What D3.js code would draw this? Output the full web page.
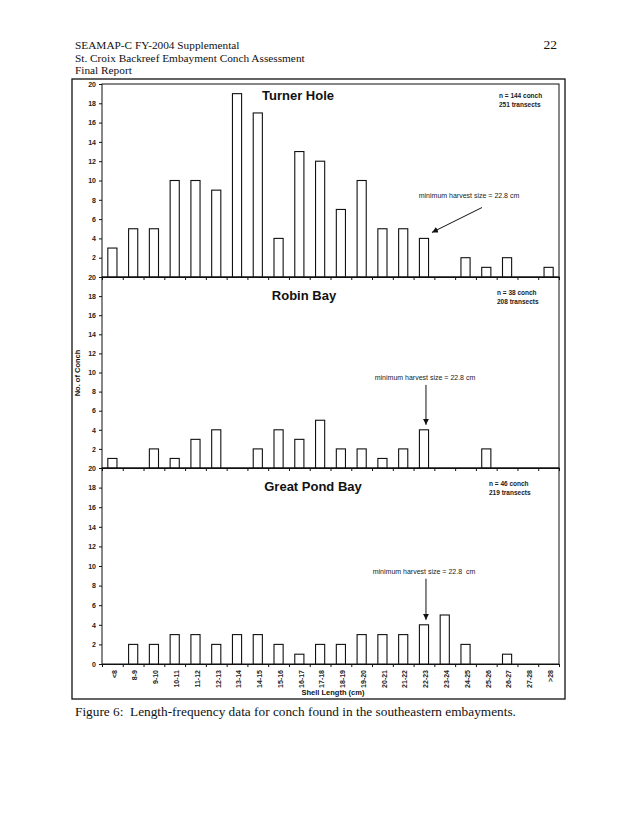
<!DOCTYPE html>
<html><head><meta charset="utf-8">
<script src="https://cdn.jsdelivr.net/npm/d3@7"></script>
<style>body{margin:0;background:#fff}svg{display:block}</style>
</head><body><script>
const categories = ["<8","8-9","9-10","10-11","11-12","12-13","13-14","14-15","15-16","16-17","17-18","18-19","19-20","20-21","21-22","22-23","23-24","24-25","25-26","26-27","27-28",">28"];
const turnerHole   = [3,5,5,10,10,9,19,17,4,13,12,7,10,5,5,4,0,2,1,2,0,1];
const robinBay     = [1,0,2,1,3,4,0,2,4,3,5,2,2,1,2,4,0,0,2,0,0,0];
const greatPondBay = [0,2,2,3,3,2,3,3,2,1,2,2,3,3,3,4,5,2,0,1,0,0];
const siteNames = ["Turner Hole","Robin Bay","Great Pond Bay"];
const conchCounts = [144,38,46];
const transectCounts = [251,208,219];
const yTickValues = [0,2,4,6,8,10,12,14,16,18,20];
const harvestCategory = "22-23";
const harvestLabels = ["minimum harvest size = 22.8 cm","minimum harvest size = 22.8 cm","minimum harvest size = 22.8  cm"];
const headerLines = ["SEAMAP-C FY-2004 Supplemental","St. Croix Backreef Embayment Conch Assessment","Final Report"];
const pageNumber = "22";
const captionText = "Figure 6:  Length-frequency data for conch found in the southeastern embayments.";

const series = [turnerHole, robinBay, greatPondBay];
const W = 630, H = 815;
const left = 102, right = 559;
const panelTop = [84, 277, 468], panelBottom = [277, 468, 664];
const ink = "#111";
const sans = "Arial, 'Liberation Sans', sans-serif";
const serif = "'Times New Roman', 'Liberation Serif', serif";

const svg = d3.select("body").append("svg").attr("width", W).attr("height", H);
svg.append("rect").attr("width", W).attr("height", H).attr("fill", "#fff");

svg.append("defs").append("marker").attr("id","arr").attr("viewBox","0 0 10 10")
  .attr("refX",10).attr("refY",5).attr("markerWidth",6).attr("markerHeight",6)
  .attr("orient","auto-start-reverse").attr("markerUnits","userSpaceOnUse")
  .append("path").attr("d","M0,0L10,5L0,10z").attr("fill",ink);

// header
svg.append("g").selectAll("text").data(headerLines).join("text")
  .attr("x",75).attr("y",(d,i)=>49+i*12.5).attr("font-family",serif).attr("font-size",11.3).attr("fill",ink).text(d=>d);
svg.append("text").attr("x",557).attr("y",49).attr("text-anchor","end").attr("font-family",serif).attr("font-size",13.5).attr("fill",ink).text(pageNumber);

// outer frame
svg.append("rect").attr("x",72).attr("y",79).attr("width",493).attr("height",620)
  .attr("fill","none").attr("stroke",ink).attr("stroke-width",1.3);

const x = d3.scaleBand().domain(categories).range([left,right]).paddingInner(0.56).paddingOuter(0.28);
const xl = d3.scaleLinear().domain([0,categories.length]).range([left,right]);

series.forEach((vals,i)=>{
  const top = panelTop[i], bottom = panelBottom[i];
  const y = d3.scaleLinear().domain([0,20]).range([bottom, top]);
  const g = svg.append("g");
  g.append("rect").attr("x",left).attr("y",top).attr("width",right-left).attr("height",bottom-top)
    .attr("fill","none").attr("stroke",ink).attr("stroke-width",1);
  const ya = g.append("g").attr("transform",`translate(${left},0)`)
    .call(d3.axisLeft(y).tickValues(i===2 ? yTickValues : yTickValues.slice(1)).tickSize(3).tickPadding(3));
  ya.select(".domain").remove();
  ya.selectAll("line").attr("stroke",ink);
  ya.selectAll("text").attr("font-family",sans).attr("font-size",7).attr("font-weight","bold").attr("fill","#222");
  const xa = g.append("g").attr("transform",`translate(0,${bottom})`)
    .call(d3.axisBottom(xl).tickValues(d3.range(0,categories.length+1)).tickSize(3).tickFormat(""));
  xa.select(".domain").attr("stroke",ink);
  xa.selectAll("line").attr("stroke",ink);

  g.append("g").selectAll("rect").data(categories.map((c,k)=>({c,v:vals[k]})).filter(d=>d.v>0)).join("rect")
    .attr("x",d=>x(d.c)).attr("width",x.bandwidth())
    .attr("y",d=>y(d.v)).attr("height",d=>y(0)-y(d.v))
    .attr("fill","#fff").attr("stroke",ink).attr("stroke-width",1.1);

  const titleX = [298,304,313][i];
  const titleDy = [16,23,23][i];
  g.append("text").attr("x",titleX).attr("y",top+titleDy).attr("text-anchor","middle")
    .attr("font-family",sans).attr("font-size",13).attr("font-weight","bold").attr("fill",ink).text(siteNames[i]);
  const nx = [499,497,489][i];
  const nDy = [14,18,18][i];
  g.append("text").attr("x",nx).attr("y",top+nDy).attr("font-family",sans).attr("font-size",6.5).attr("font-weight","bold").attr("fill","#222")
    .text(`n = ${conchCounts[i]} conch`);
  g.append("text").attr("x",nx).attr("y",top+nDy+8.5).attr("font-family",sans).attr("font-size",6.5).attr("font-weight","bold").attr("fill","#222")
    .text(`${transectCounts[i]} transects`);

  const hk = categories.indexOf(harvestCategory);
  const cx = x(harvestCategory) + x.bandwidth()/2;
  const barTop = y(vals[hk]);
  if (i===0) {
    g.append("text").attr("x",469).attr("y",y(8.2)).attr("text-anchor","middle").attr("font-family",sans).attr("font-size",7)
      .attr("fill","#222").style("white-space","pre").text(harvestLabels[i]);
    g.append("line").attr("x1",482).attr("y1",y(7.2)).attr("x2",cx+8).attr("y2",barTop-6)
      .attr("stroke",ink).attr("stroke-width",1).attr("marker-end","url(#arr)");
  } else {
    const tx = [0,425,424][i];
    g.append("text").attr("x",tx).attr("y",y(9.2)).attr("text-anchor","middle").attr("font-family",sans).attr("font-size",7)
      .attr("fill","#222").style("white-space","pre").text(harvestLabels[i]);
    g.append("line").attr("x1",cx+2).attr("y1",y(8.7)).attr("x2",cx+2).attr("y2",barTop-5)
      .attr("stroke",ink).attr("stroke-width",1).attr("marker-end","url(#arr)");
  }

  if (i===2) {
    const lab = g.append("g").attr("transform",`translate(2,${bottom})`)
      .call(d3.axisBottom(x).tickSize(0).tickPadding(0));
    lab.select(".domain").remove();
    lab.selectAll("text").attr("transform","rotate(-90)").attr("text-anchor","end")
      .attr("x",-6).attr("y",0).attr("dy","0.32em")
      .attr("font-family",sans).attr("font-size",7).attr("font-weight","bold").attr("fill","#222");
  }
});

svg.append("text").attr("transform","translate(80,373) rotate(-90)").attr("text-anchor","middle")
  .attr("font-family",sans).attr("font-size",7.5).attr("font-weight","bold").attr("fill",ink).text("No. of Conch");
svg.append("text").attr("x",333).attr("y",695).attr("text-anchor","middle")
  .attr("font-family",sans).attr("font-size",7.5).attr("font-weight","bold").attr("fill",ink).text("Shell Length (cm)");
svg.append("text").attr("x",75).attr("y",716).attr("font-family",serif).attr("font-size",13.3).attr("fill",ink)
  .style("white-space","pre").text(captionText);
</script></body></html>
